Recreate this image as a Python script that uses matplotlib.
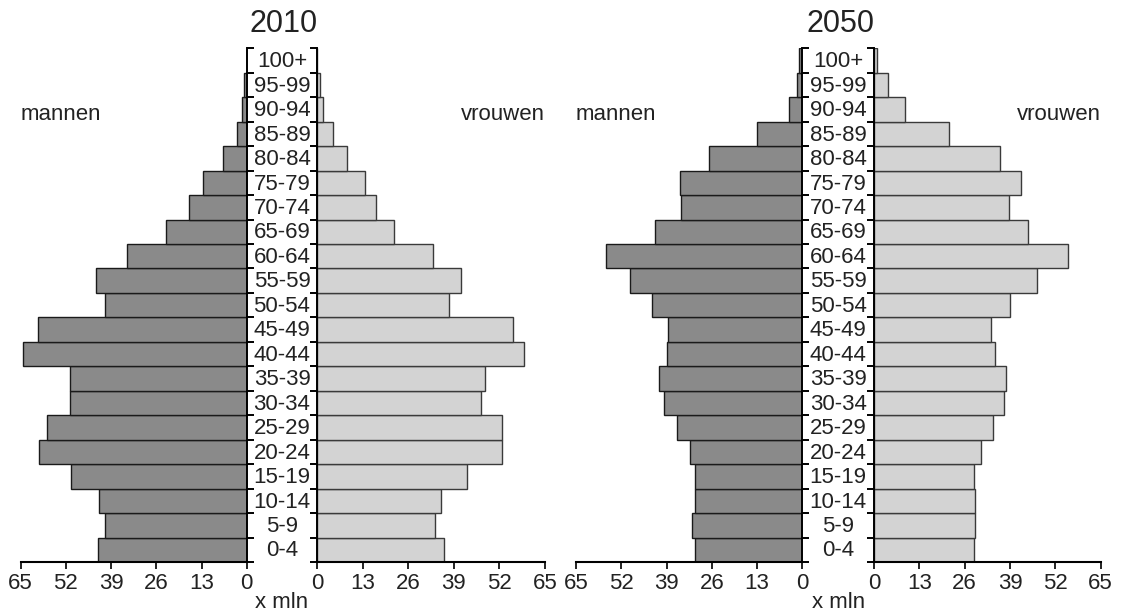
import numpy as np
import matplotlib
matplotlib.use('Agg')
import matplotlib.pyplot as plt
from matplotlib.transforms import blended_transform_factory

plt.rcParams['font.family'] = ['Liberation Sans', 'DejaVu Sans']

# age groups, from bottom (0-4) to top (100+)
ages = ['0-4', '5-9', '10-14', '15-19', '20-24', '25-29', '30-34', '35-39',
        '40-44', '45-49', '50-54', '55-59', '60-64', '65-69', '70-74',
        '75-79', '80-84', '85-89', '90-94', '95-99', '100+']

men_2010 = [42.9, 40.7, 42.5, 50.5, 59.7, 57.5, 50.9, 50.9, 64.2, 60.1, 40.7,
            43.4, 34.4, 23.2, 16.7, 12.6, 6.9, 2.9, 1.4, 0.9, 0.0]
women_2010 = [36.3, 33.6, 35.2, 42.8, 52.6, 52.6, 46.8, 47.8, 59.0, 55.9, 37.6,
              40.9, 32.9, 22.0, 16.8, 13.5, 8.4, 4.6, 1.6, 0.8, 0.0]
men_2050 = [30.9, 31.6, 30.9, 30.9, 32.2, 35.9, 39.8, 41.2, 39.0, 38.5, 43.3,
            49.6, 56.4, 42.3, 34.7, 35.1, 26.7, 12.9, 3.8, 1.6, 0.9]
women_2050 = [28.7, 29.1, 29.1, 28.7, 30.7, 34.1, 37.4, 37.8, 34.7, 33.6, 39.1,
              46.6, 55.7, 44.1, 38.7, 42.2, 36.1, 21.4, 9.0, 3.9, 1.0]

xticks = [0, 13, 26, 39, 52, 65]

W, H = 1121, 612
fig = plt.figure(figsize=(W / 100, H / 100), dpi=100)

TOP, BOT = 48.3, 562.0
FS = 16


def px_axes(x0, x1):
    return fig.add_axes([x0 / W, 1 - BOT / H, (x1 - x0) / W, (BOT - TOP) / H])


def style(ax, side):
    for s in ['top', 'left', 'right']:
        ax.spines[s].set_visible(False)
    ax.spines[side].set_visible(True)
    ax.spines[side].set_linewidth(1.4)
    ax.spines['bottom'].set_linewidth(1.5)
    ax.set_ylim(-0.5, len(ages) - 0.5)
    ax.set_yticks(np.arange(-0.5, len(ages)))
    if side == 'right':
        ax.yaxis.tick_right()
    else:
        ax.yaxis.tick_left()
    ax.tick_params(axis='y', direction='out', length=5, width=1.4,
                   labelleft=False, labelright=False)
    ax.set_xticks(xticks)
    ax.tick_params(axis='x', direction='out', length=5, width=1.4,
                   labelsize=FS, pad=3, colors='#222222')
    ax.patch.set_visible(False)


def pyramid(year, men, women, lx0, lx1, rx0, rx1):
    pos = np.arange(len(ages))
    axl = px_axes(lx0, lx1)
    axl.barh(pos, men, height=1.0, color='#8a8a8a', edgecolor='#1a1a1a',
             linewidth=1.0)
    axl.set_xlim(65, 0)
    style(axl, 'right')

    axr = px_axes(rx0, rx1)
    axr.barh(pos, women, height=1.0, color='#d3d3d3', edgecolor='#3a3a3a',
             linewidth=1.0)
    axr.set_xlim(0, 65)
    style(axr, 'left')

    cx = (lx1 + rx0) / 2 / W
    tr = blended_transform_factory(fig.transFigure, axl.transData)
    for p, a in zip(pos, ages):
        axl.text(cx, p - 0.05, a, transform=tr, ha='center', va='center',
                 fontsize=FS, color='#222222')

    fig.text(cx, 1 - 603 / H, 'x mln', ha='center', va='center',
             fontsize=FS, color='#222222')
    fig.text(cx + 2 / W, 1 - 24 / H, year, ha='center', va='center',
             fontsize=22, color='#222222')
    fig.text(lx0 / W, 1 - 115 / H, 'mannen', ha='left', va='center',
             fontsize=16, color='#222222')
    fig.text(rx1 / W, 1 - 115 / H, 'vrouwen', ha='right', va='center',
             fontsize=16, color='#222222')


pyramid('2010', men_2010, women_2010, 20.7, 246.7, 317.3, 545.0)
pyramid('2050', men_2050, women_2050, 576.0, 802.3, 874.0, 1100.7)

fig.savefig('out.png', dpi=100, facecolor='white')
